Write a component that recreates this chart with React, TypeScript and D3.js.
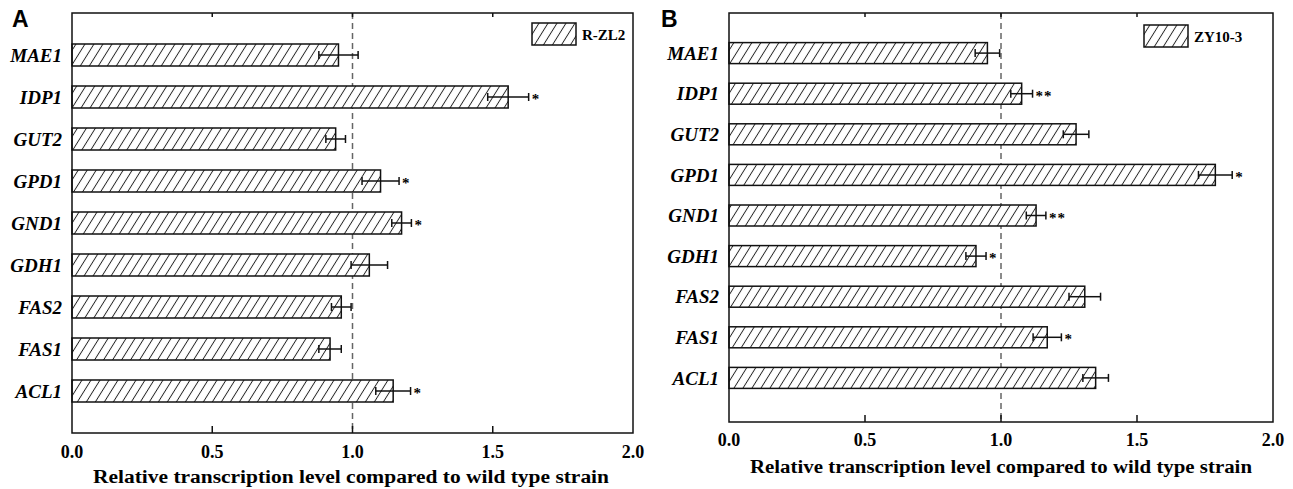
import React, { useEffect, useRef } from "react";
import * as d3 from "d3";

// genes on the y axis, top to bottom
const genes = ["MAE1", "IDP1", "GUT2", "GPD1", "GND1", "GDH1", "FAS2", "FAS1", "ACL1"];
// panel A: R-ZL2
const rzl2Values = [0.95, 1.555, 0.94, 1.1, 1.175, 1.06, 0.96, 0.92, 1.145];
const rzl2Errors = [0.07, 0.073, 0.035, 0.066, 0.035, 0.065, 0.035, 0.04, 0.062];
const rzl2Marks = ["", "*", "", "*", "*", "", "", "", "*"];
// panel B: ZY10-3
const zy103Values = [0.95, 1.076, 1.276, 1.788, 1.129, 0.908, 1.308, 1.17, 1.348];
const zy103Errors = [0.045, 0.04, 0.047, 0.062, 0.036, 0.037, 0.058, 0.052, 0.047];
const zy103Marks = ["", "**", "", "*", "**", "*", "", "*", ""];
const xTicks = [0, 0.5, 1, 1.5, 2];
const xTitle = "Relative transcription level compared to wild type strain";

const serif = "Liberation Serif";

function drawPanel(svg, cfg) {
  const g = svg.append("g").attr("font-family", serif).attr("font-weight", "bold");
  const x = d3.scaleLinear().domain([0, 2]).range([cfg.left, cfg.right]);
  const y = d3.scalePoint().domain(genes).range(cfg.band).padding(1);
  const data = genes.map((gene, i) => ({ gene, v: cfg.values[i], e: cfg.errors[i], m: cfg.marks[i] }));

  // hatch pattern
  const pat = svg.append("defs").append("pattern")
    .attr("id", cfg.id + "-hatch")
    .attr("patternUnits", "userSpaceOnUse")
    .attr("width", 9).attr("height", 10)
    .attr("patternTransform", "skewX(-32)");
  pat.append("rect").attr("width", 9).attr("height", 10).attr("fill", "#fff");
  pat.append("line").attr("x1", 4.5).attr("x2", 4.5).attr("y1", -1).attr("y2", 11)
    .attr("stroke", "#222").attr("stroke-width", 1.1);

  // panel letter
  g.append("text").attr("x", cfg.letterX).attr("y", 27)
    .attr("font-family", "Liberation Sans").attr("font-size", 23)
    .text(cfg.letter);

  // dashed reference line at 1.0
  g.append("line")
    .attr("x1", x(1)).attr("x2", x(1)).attr("y1", cfg.top).attr("y2", cfg.bottom)
    .attr("stroke", "#666").attr("stroke-width", 1.5).attr("stroke-dasharray", "6,4");

  // bars
  g.selectAll(".bar").data(data).join("rect").attr("class", "bar")
    .attr("x", x(0)).attr("y", d => y(d.gene) - cfg.barH / 2)
    .attr("width", d => x(d.v) - x(0)).attr("height", cfg.barH)
    .attr("fill", `url(#${cfg.id}-hatch)`).attr("stroke", "#111").attr("stroke-width", 1.5);

  // error bars
  const eb = g.selectAll(".err").data(data).join("g").attr("class", "err")
    .attr("stroke", "#111").attr("stroke-width", 1.5);
  eb.append("line").attr("x1", d => x(d.v - d.e)).attr("x2", d => x(d.v + d.e))
    .attr("y1", d => y(d.gene)).attr("y2", d => y(d.gene));
  eb.append("line").attr("x1", d => x(d.v - d.e)).attr("x2", d => x(d.v - d.e))
    .attr("y1", d => y(d.gene) - 4).attr("y2", d => y(d.gene) + 4);
  eb.append("line").attr("x1", d => x(d.v + d.e)).attr("x2", d => x(d.v + d.e))
    .attr("y1", d => y(d.gene) - 4).attr("y2", d => y(d.gene) + 4);

  // significance marks
  g.selectAll(".mark").data(data.filter(d => d.m)).join("text").attr("class", "mark")
    .attr("x", d => x(d.v + d.e) + 3).attr("y", d => y(d.gene) + 7)
    .attr("font-size", 15).attr("letter-spacing", "1px")
    .text(d => d.m);

  // gene labels
  g.selectAll(".ylab").data(genes).join("text").attr("class", "ylab")
    .attr("x", cfg.left - 10).attr("y", d => y(d)).attr("dy", "0.35em")
    .attr("text-anchor", "end").attr("font-style", "italic").attr("font-size", 19)
    .text(d => d);

  // frame
  g.append("rect").attr("x", cfg.left).attr("y", cfg.top)
    .attr("width", cfg.right - cfg.left).attr("height", cfg.bottom - cfg.top)
    .attr("fill", "none").attr("stroke", "#111").attr("stroke-width", 1.5);

  // inward ticks top and bottom
  const inner = xTicks.slice(1, -1);
  g.selectAll(".tt").data(inner).join("line").attr("class", "tt")
    .attr("x1", d => x(d)).attr("x2", d => x(d)).attr("y1", cfg.top).attr("y2", cfg.top + 4)
    .attr("stroke", "#111").attr("stroke-width", 1.5);
  g.selectAll(".bt").data(inner).join("line").attr("class", "bt")
    .attr("x1", d => x(d)).attr("x2", d => x(d)).attr("y1", cfg.bottom).attr("y2", cfg.bottom - 7)
    .attr("stroke", "#111").attr("stroke-width", 1.5);

  // tick labels
  g.selectAll(".xl").data(xTicks).join("text").attr("class", "xl")
    .attr("x", d => x(d)).attr("y", cfg.tickY).attr("text-anchor", "middle")
    .attr("font-size", 18)
    .text(d => d3.format(".1f")(d));

  // axis title
  g.append("text").attr("x", cfg.titleX).attr("y", cfg.titleY).attr("text-anchor", "middle")
    .attr("textLength", cfg.titleW).attr("lengthAdjust", "spacingAndGlyphs")
    .attr("font-size", 18)
    .text(xTitle);

  // legend
  g.append("rect").attr("x", cfg.legX).attr("y", cfg.legY).attr("width", 44).attr("height", 22)
    .attr("fill", `url(#${cfg.id}-hatch)`).attr("stroke", "#111").attr("stroke-width", 1.5);
  g.append("text").attr("x", cfg.legX + 50).attr("y", cfg.legY + 17)
    .attr("font-size", 15)
    .text(cfg.name);
}

export default function App() {
  const ref = useRef(null);
  useEffect(() => {
    document.body.style.margin = "0";
    const svg = d3.select(ref.current);
    svg.selectAll("*").remove();
    drawPanel(svg, {
      id: "a", letter: "A", letterX: 12, name: "R-ZL2",
      values: rzl2Values, errors: rzl2Errors, marks: rzl2Marks,
      left: 72, right: 633, top: 13, bottom: 433, band: [13, 433], barH: 22,
      tickY: 458, titleX: 351, titleY: 483, titleW: 516, legX: 532, legY: 23,
    });
    drawPanel(svg, {
      id: "b", letter: "B", letterX: 661, name: "ZY10-3",
      values: zy103Values, errors: zy103Errors, marks: zy103Marks,
      left: 729, right: 1273, top: 13, bottom: 422, band: [12.5, 418.5], barH: 21,
      tickY: 446, titleX: 1001, titleY: 473, titleW: 502, legX: 1144, legY: 25,
    });
  }, []);
  return <svg ref={ref} width={1293} height={489} style={{ display: "block", background: "#fff" }} />;
}
